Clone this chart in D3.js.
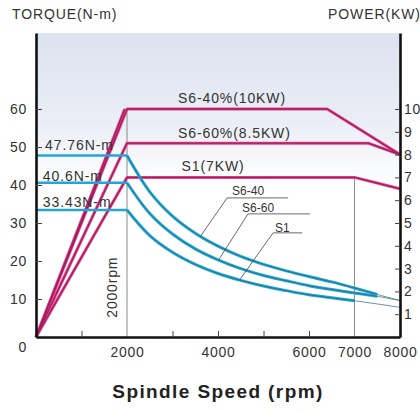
<!DOCTYPE html>
<html>
<head>
<meta charset="utf-8">
<script src="https://cdn.jsdelivr.net/npm/d3@7"></script>
<style>
  body { margin: 0; background: #fff; }
  text { font-family: "Liberation Sans", Arial, Helvetica, sans-serif; }
</style>
</head>
<body>
<div id="chart"></div>
<script>
// speed samples (rpm) used for the torque curves
const rpmPts = [0, 2000, 2500, 3000, 3500, 4000, 4500, 5000, 5500, 6000, 6500, 7000, 7500, 8000];

// torque (N-m)
const torqueS640 = [47.76, 47.76, 38.2, 31.8, 27.3, 23.9, 21.2, 19.1, 17.4, 15.9, 14.5, 12.9, 11.2, 9.6];
const torqueS660 = [40.6, 40.6, 32.5, 27.1, 23.2, 20.3, 18.0, 16.2, 14.8, 13.5, 12.5, 11.6, 10.7, 9.6];
const torqueS1   = [33.43, 33.43, 26.7, 22.3, 19.1, 16.7, 14.9, 13.4, 12.2, 11.1, 10.3, 9.55, 8.7, 7.8];
const cyanUntil  = [7500, 7500, 7000];

// power lines (rpm, kW)
const powerRpm = [[0, 1950], [0, 2000, 6400, 8000], [0, 2000, 7300, 8000], [0, 2000, 7000, 8000]];
const powerKw  = [[0, 10], [0, 10, 10, 8], [0, 8.5, 8.5, 8], [0, 7, 7, 6.5]];

const torqueTicks = [0, 10, 20, 30, 40, 50, 60];
const powerTicks = [1, 2, 3, 4, 5, 6, 7, 8, 9, 10];
const rpmMinorTicks = [1000, 3000, 4000, 5000, 6000];
const rpmLabels = [2000, 4000, 6000, 7000, 8000];

const powerLabels = [
  { text: "S6-40%(10KW)", rpm: 3120, kw: 10.25 },
  { text: "S6-60%(8.5KW)", rpm: 3120, kw: 8.75 },
  { text: "S1(7KW)", rpm: 3200, kw: 7.3 }
];
const torqueLabels = [
  { text: "47.76N-m", rpm: 200, nm: 49.2 },
  { text: "40.6N-m", rpm: 150, nm: 41.1 },
  { text: "33.43N-m", rpm: 150, nm: 34.2 }
];
// leader callouts: point on curve, elbow, end of underline, text spot
const leaders = [
  { text: "S6-40", at: [3620, 26.6], elbow: [4200, 36.6], end: 5540, tx: 4310, ty: 37.4 },
  { text: "S6-60", at: [4020, 20.4], elbow: [4660, 32.4], end: 6020, tx: 4530, ty: 32.9 },
  { text: "S1", at: [4480, 15.1], elbow: [5210, 27.4], end: 5850, tx: 5250, ty: 27.6 }
];

const W = 420, H = 411;
const svg = d3.select("#chart").append("svg")
  .attr("width", W).attr("height", H);

const x = d3.scaleLinear().domain([0, 8000]).range([36, 400]);
const yT = d3.scaleLinear().domain([0, 80]).range([337, 33]);
const yP = d3.scaleLinear().domain([0, 80 / 6]).range([337, 33]);

// pale background of plot top
const grad = svg.append("defs").append("linearGradient")
  .attr("id", "bg").attr("x1", 0).attr("y1", 0).attr("x2", 0).attr("y2", 1);
grad.append("stop").attr("offset", 0).attr("stop-color", "#dce2ef");
grad.append("stop").attr("offset", 0.6).attr("stop-color", "#ebeef6");
grad.append("stop").attr("offset", 1).attr("stop-color", "#ffffff");
svg.append("rect")
  .attr("x", x(0)).attr("y", yT(80))
  .attr("width", x(8000) - x(0)).attr("height", yT(40) - yT(80))
  .attr("fill", "url(#bg)");

// reference verticals at 2000 and 7000 rpm
svg.append("line")
  .attr("x1", x(2000)).attr("x2", x(2000)).attr("y1", yT(0)).attr("y2", yP(10))
  .attr("stroke", "#8a8a8a").attr("stroke-width", 1);
svg.append("line")
  .attr("x1", x(7000)).attr("x2", x(7000)).attr("y1", yT(0)).attr("y2", yP(7))
  .attr("stroke", "#8a8a8a").attr("stroke-width", 1);

// power lines
const pLine = d3.line().x(d => x(d[0])).y(d => yP(d[1]));
const powerData = powerRpm.map((r, i) => r.map((v, j) => [v, powerKw[i][j]]));
svg.append("g").selectAll("path").data(powerData).join("path")
  .attr("d", pLine).attr("fill", "none")
  .attr("stroke", "#e8468f").attr("stroke-width", 3).attr("stroke-linejoin", "round");
svg.append("g").selectAll("path").data(powerData).join("path")
  .attr("d", pLine).attr("fill", "none")
  .attr("stroke", "#9c1f5c").attr("stroke-width", 1.3).attr("stroke-linejoin", "round");

// torque curves
const torqueData = [torqueS640, torqueS660, torqueS1].map(s => rpmPts.map((r, j) => [r, s[j]]));
const flatLine = d3.line().x(d => x(d[0])).y(d => yT(d[1]));
const curveLine = d3.line().x(d => x(d[0])).y(d => yT(d[1])).curve(d3.curveCatmullRom);

const tg = svg.append("g");
torqueData.forEach((pts, i) => {
  const flat = pts.filter(d => d[0] <= 2000);
  const fall = pts.filter(d => d[0] >= 2000);
  const fallCyan = fall.filter(d => d[0] <= cyanUntil[i]);
  tg.append("path").attr("d", flatLine(flat)).attr("fill", "none")
    .attr("stroke", "#22a6d6").attr("stroke-width", 2.6);
  tg.append("path").attr("d", curveLine(fallCyan)).attr("fill", "none")
    .attr("stroke", "#22a6d6").attr("stroke-width", 3);
  tg.append("path").attr("d", curveLine(fall)).attr("fill", "none")
    .attr("stroke", "#245f72").attr("stroke-width", 0.9).attr("opacity", 0.75);
});

// leaders
const lg = svg.append("g");
leaders.forEach(l => {
  lg.append("polyline")
    .attr("points", [[x(l.at[0]), yT(l.at[1])], [x(l.elbow[0]), yT(l.elbow[1])], [x(l.end), yT(l.elbow[1])]].join(" "))
    .attr("fill", "none").attr("stroke", "#444").attr("stroke-width", 0.8);
  lg.append("text").attr("x", x(l.tx)).attr("y", yT(l.ty))
    .attr("font-size", 12).attr("fill", "#333").text(l.text);
});

// text labels
svg.append("g").selectAll("text").data(powerLabels).join("text")
  .attr("x", d => x(d.rpm)).attr("y", d => yP(d.kw))
  .attr("font-size", 14).attr("letter-spacing", 0.9).attr("fill", "#333")
  .text(d => d.text);
svg.append("g").selectAll("text").data(torqueLabels).join("text")
  .attr("x", d => x(d.rpm)).attr("y", d => yT(d.nm))
  .attr("font-size", 14).attr("letter-spacing", 0.9).attr("fill", "#333")
  .text(d => d.text);

svg.append("text")
  .attr("transform", `translate(${x(2000) - 10},${yT(13.1)}) rotate(-90)`)
  .attr("text-anchor", "middle")
  .attr("font-size", 14).attr("letter-spacing", 0.8).attr("fill", "#333")
  .text("2000rpm");

svg.append("text").attr("x", 12).attr("y", 19)
  .attr("font-size", 14).attr("letter-spacing", 0.9).attr("fill", "#333")
  .text("TORQUE(N-m)");
svg.append("text").attr("x", 328).attr("y", 19)
  .attr("font-size", 14).attr("letter-spacing", 0.9).attr("fill", "#333")
  .text("POWER(KW)");

svg.append("text").attr("x", (x(0) + x(8000)) / 2).attr("y", 398)
  .attr("text-anchor", "middle")
  .attr("font-size", 19).attr("font-weight", "bold").attr("letter-spacing", 1.4)
  .attr("fill", "#222")
  .text("Spindle Speed (rpm)");

// axes
const styleAxis = g => {
  g.attr("font-size", 14).attr("font-family", null);
  g.select(".domain").attr("stroke", "#111").attr("stroke-width", 2.6);
  g.selectAll(".tick line").attr("stroke", "#444");
  g.selectAll(".tick text").attr("fill", "#333").attr("letter-spacing", 0.7);
};

svg.append("g")
  .attr("transform", `translate(${x(0)},0)`)
  .call(d3.axisLeft(yT).tickValues(torqueTicks).tickSize(-6).tickSizeOuter(0).tickPadding(9))
  .call(styleAxis)
  .call(g => g.selectAll(".tick").filter(d => d === 0).select("line").remove())
  .call(g => g.selectAll(".tick text").filter(d => d === 0).attr("dy", "1.0em"));

svg.append("g")
  .attr("transform", `translate(${x(8000)},0)`)
  .call(d3.axisRight(yP).tickValues(powerTicks).tickSize(-5).tickSizeOuter(0).tickPadding(4))
  .call(styleAxis);

svg.append("g")
  .attr("transform", `translate(0,${yT(0)})`)
  .call(d3.axisBottom(x).tickValues(rpmMinorTicks).tickSize(-6).tickSizeOuter(0).tickFormat(""))
  .call(styleAxis);

svg.append("g")
  .attr("transform", `translate(0,${yT(0)})`)
  .call(d3.axisBottom(x).tickValues(rpmLabels).tickSize(0).tickPadding(10).tickFormat(d3.format("d")))
  .call(styleAxis)
  .call(g => g.select(".domain").remove());
</script>
</body>
</html>
